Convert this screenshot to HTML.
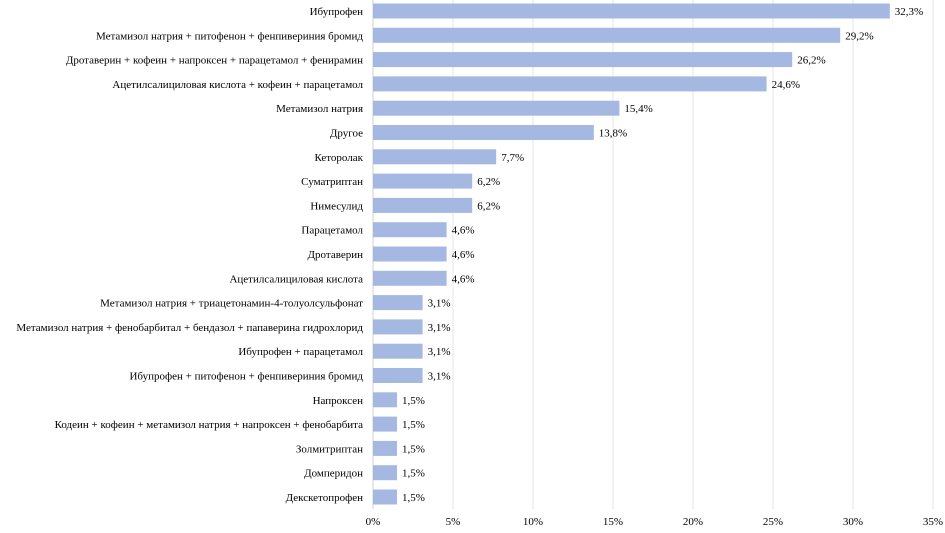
<!DOCTYPE html>
<html><head><meta charset="utf-8"><style>
body{margin:0;background:#fff;}
svg text{font-family:"Liberation Serif","DejaVu Serif",serif;font-size:11px;fill:#000;}
</style></head><body>
<svg id="chart" width="945" height="528" xmlns="http://www.w3.org/2000/svg"></svg>
<script>
const categories=["Ибупрофен","Метамизол натрия + питофенон + фенпивериния бромид","Дротаверин + кофеин + напроксен + парацетамол + фенирамин","Ацетилсалициловая кислота + кофеин + парацетамол","Метамизол натрия","Другое","Кеторолак","Суматриптан","Нимесулид","Парацетамол","Дротаверин","Ацетилсалициловая кислота","Метамизол натрия + триацетонамин-4-толуолсульфонат","Метамизол натрия + фенобарбитал + бендазол + папаверина гидрохлорид","Ибупрофен + парацетамол","Ибупрофен + питофенон + фенпивериния бромид","Напроксен","Кодеин + кофеин + метамизол натрия + напроксен + фенобарбита","Золмитриптан","Домперидон","Декскетопрофен"];
const values=[32.3,29.2,26.2,24.6,15.4,13.8,7.7,6.2,6.2,4.6,4.6,4.6,3.1,3.1,3.1,3.1,1.5,1.5,1.5,1.5,1.5];
const ticks=[0,5,10,15,20,25,30,35];
const NS="http://www.w3.org/2000/svg";
const svg=document.getElementById('chart');
const x0=373,pxPer=16,y0=11,step=24.3,bh=15;
const xs=v=>x0+v*pxPer, ys=i=>y0+i*step;
function mk(t,a){const e=document.createElementNS(NS,t);for(const k in a)e.setAttribute(k,a[k]);svg.appendChild(e);return e;}
ticks.forEach(t=>{
 const g=mk('line',{x1:xs(t),x2:xs(t),y1:0,y2:509,stroke:t===0?'#d0d0d0':'#e4e4e4','stroke-width':1});
 
 
 const l=mk('text',{x:xs(t),y:525,'text-anchor':'middle'});l.textContent=t+'%';
 
 
});
categories.forEach((c,i)=>{
 const y=ys(i);
 const lab=mk('text',{x:363,y:y+4,'text-anchor':'end'});lab.textContent=c;
 
 
 const r=mk('rect',{x:x0,y:y-bh/2,width:values[i]*pxPer,height:bh,fill:'#a4b8e2'});
 
 
 const v=mk('text',{x:xs(values[i])+5,y:y+4});v.textContent=values[i].toFixed(1).replace('.',',')+'%';
 
 
});
</script>
</body></html>
